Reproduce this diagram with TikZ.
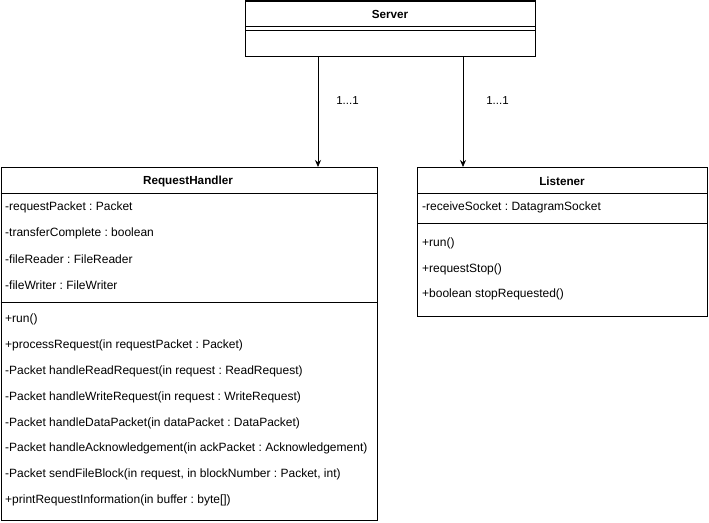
\documentclass[tikz,border=0pt]{standalone}
\usepackage{fontspec}
\setmainfont{Liberation Sans}
\usetikzlibrary{arrows.meta}
\frenchspacing
\begin{document}
\begin{tikzpicture}[x=1pt,y=-1pt,
  box/.style={draw=black,line width=1pt,fill=white,inner sep=0pt,anchor=north west},
  sep/.style={draw=black,line width=1pt},
  ttl/.style={font=\fontsize{11.7}{14}\selectfont\bfseries,inner sep=0pt},
  mem/.style={font=\fontsize{12}{14}\selectfont,inner sep=0pt,anchor=west},
  mult/.style={font=\fontsize{11.5}{14}\selectfont,inner sep=0pt},
  assoc/.style={draw=black,line width=0.8pt,-{Stealth[length=7pt,width=6pt]}}]
\useasboundingbox[fill=white] (0,0) rectangle (709,522);

% Server class
\node[box,minimum width=290pt,minimum height=55.5pt] (srv) at (245,0.5) {};
\node[ttl] (srvT) at (390,14) {Server};
\draw[sep] (245,26) -- (535,26);
\draw[sep] (245,30) -- (535,30);

% RequestHandler class
\node[box,minimum width=376.5pt,minimum height=353pt] (rh) at (0.5,167) {};
\node[ttl] (rhT) at (188,181) {RequestHandler};
\draw[sep] (0.5,193) -- (377,193);
\node[mem] (rhA1) at (5,207) {-requestPacket : Packet};
\node[mem] (rhA2) at (5,233) {-transferComplete : boolean};
\node[mem] (rhA3) at (5,259) {-fileReader : FileReader};
\node[mem] (rhA4) at (5,285) {-fileWriter : FileWriter};
\draw[sep] (0.5,302) -- (377,302);
\node[mem] (rhM1) at (5,319) {+run()};
\node[mem] (rhM2) at (5,345) {+processRequest(in requestPacket : Packet)};
\node[mem] (rhM3) at (5,371) {-Packet handleReadRequest(in request : ReadRequest)};
\node[mem] (rhM4) at (5,397) {-Packet handleWriteRequest(in request : WriteRequest)};
\node[mem] (rhM5) at (5,423) {-Packet handleDataPacket(in dataPacket : DataPacket)};
\node[mem] (rhM6) at (5,448) {-Packet handleAcknowledgement(in ackPacket : Acknowledgement)};
\node[mem] (rhM7) at (5,474) {-Packet sendFileBlock(in request, in blockNumber : Packet, int)};
\node[mem] (rhM8) at (5,500) {+printRequestInformation(in buffer : byte[])};

% Listener class
\node[box,minimum width=290pt,minimum height=149pt] (ls) at (417,167) {};
\node[ttl] (lsT) at (562,181) {Listener};
\draw[sep] (417,193) -- (707,193);
\node[mem] (lsA1) at (422,207) {-receiveSocket : DatagramSocket};
\draw[sep] (417,223) -- (707,223);
\node[mem] (lsM1) at (422,243) {+run()};
\node[mem] (lsM2) at (422,269) {+requestStop()};
\node[mem] (lsM3) at (422,294) {+boolean stopRequested()};

% Associations
\coordinate (c1) at (318,0);
\coordinate (c2) at (463,0);
\draw[assoc] (srv.south -| c1) -- (rh.north -| c1);
\draw[assoc] (srv.south -| c2) -- (ls.north -| c2);
\node[mult] (m1) at (347.5,100.5) {1...1};
\node[mult] (m2) at (497.5,100.5) {1...1};
\end{tikzpicture}
\end{document}
